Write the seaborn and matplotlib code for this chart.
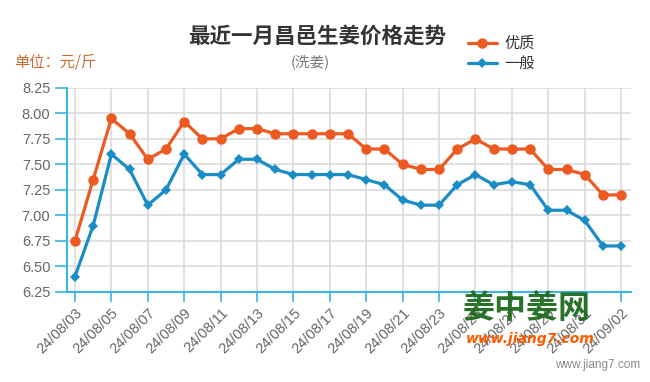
import matplotlib
matplotlib.use("Agg")
import matplotlib.pyplot as plt
import seaborn as sns
import pandas as pd

dates = ["24/08/03", "24/08/04", "24/08/05", "24/08/06", "24/08/07", "24/08/08",
         "24/08/09", "24/08/10", "24/08/11", "24/08/12", "24/08/13", "24/08/14",
         "24/08/15", "24/08/16", "24/08/17", "24/08/18", "24/08/19", "24/08/20",
         "24/08/21", "24/08/22", "24/08/23", "24/08/24", "24/08/25", "24/08/26",
         "24/08/27", "24/08/28", "24/08/29", "24/08/30", "24/08/31", "24/09/01",
         "24/09/02"]
premium = [6.75, 7.35, 7.95, 7.80, 7.55, 7.65, 7.92, 7.75, 7.75, 7.85, 7.85,
           7.80, 7.80, 7.80, 7.80, 7.80, 7.65, 7.65, 7.50, 7.45, 7.45, 7.65,
           7.75, 7.65, 7.65, 7.65, 7.45, 7.45, 7.40, 7.20, 7.20]
normal = [6.40, 6.90, 7.60, 7.45, 7.10, 7.25, 7.60, 7.40, 7.40, 7.55, 7.55,
          7.45, 7.40, 7.40, 7.40, 7.40, 7.35, 7.30, 7.15, 7.10, 7.10, 7.30,
          7.40, 7.30, 7.33, 7.30, 7.05, 7.05, 6.95, 6.70, 6.70]
yticks = [6.25, 6.50, 6.75, 7.00, 7.25, 7.50, 7.75, 8.00, 8.25]

sns.set_style("white")
plt.rcParams["font.family"] = ["Noto Sans CJK SC", "DejaVu Sans"]

ORANGE = "#ec5a22"
BLUE = "#1a8cc6"
AXBLUE = "#3bb4e6"
GRID = "#d9d9d9"
TXT = "#666666"

df = pd.DataFrame({"idx": range(len(dates)), "date": dates,
                   "premium": premium, "normal": normal})

fig = plt.figure(figsize=(6.5, 3.82), dpi=100)
ax = fig.add_axes([0.103, 0.236, 0.868, 0.534])

sns.lineplot(data=df, x="idx", y="premium", ax=ax, color=ORANGE, lw=2.3,
             marker="o", markersize=7.5, markeredgewidth=0, label="优质", zorder=4)
sns.lineplot(data=df, x="idx", y="normal", ax=ax, color=BLUE, lw=2.3,
             marker="D", markersize=5.5, markeredgewidth=0, label="一般", zorder=3)

ax.set_xlim(-0.44, 30.55)
ax.set_ylim(6.25, 8.25)
ax.set_xticks(df["idx"][::2])
ax.set_xticklabels(df["date"][::2], rotation=45, ha="right",
                   rotation_mode="anchor", family="Liberation Sans",
                   fontsize=10.5, color=TXT)
ax.set_yticks(yticks)
ax.set_yticklabels([f"{v:.2f}" for v in yticks], family="Liberation Sans",
                   fontsize=10.5, color=TXT)
ax.tick_params(axis="x", length=7, width=1.2, color=AXBLUE, pad=3, bottom=True)
ax.tick_params(axis="y", length=9, width=1.2, color=AXBLUE, pad=3, left=True)
ax.grid(True, color=GRID, lw=1.1)
ax.set_axisbelow(True)
ax.set_xlabel("")
ax.set_ylabel("")
for side in ["top", "right"]:
    ax.spines[side].set_visible(False)
for side in ["left", "bottom"]:
    ax.spines[side].set_color(AXBLUE)
    ax.spines[side].set_linewidth(1.5)

handles, labels = ax.get_legend_handles_labels()
ax.legend(handles, labels, loc="upper left", bbox_to_anchor=(0.708, 0.928),
          bbox_transform=fig.transFigure, frameon=False, fontsize=11,
          handlelength=1.9, handletextpad=0.5, labelspacing=0.2,
          borderpad=0, labelcolor="#333333")

fig.text(0.488, 0.905, "最近一月昌邑生姜价格走势", ha="center", va="center",
         fontsize=15.5, fontweight="bold", color="#333333")
fig.text(0.478, 0.838, "(洗姜)", ha="center", va="center",
         fontsize=10.5, color="#777777")
fig.text(0.022, 0.838, "单位：元/斤", ha="left", va="center",
         fontsize=11, color="#cf6b32")

# watermark
fig.text(0.81, 0.19, "姜中姜网", ha="center", va="center", fontsize=23,
         fontweight="bold", color="#1d6a1d", alpha=0.95)
fig.text(0.815, 0.112, "www.jiang7.com", ha="center", va="center", fontsize=10,
         fontweight="bold", style="italic", color="#ff5a00", family="DejaVu Sans")
fig.text(0.985, 0.045, "www.jiang7.com", ha="right", va="center", fontsize=8.5,
         color="#8a8a8a", family="Liberation Sans")

fig.savefig("out.png", dpi=100)
